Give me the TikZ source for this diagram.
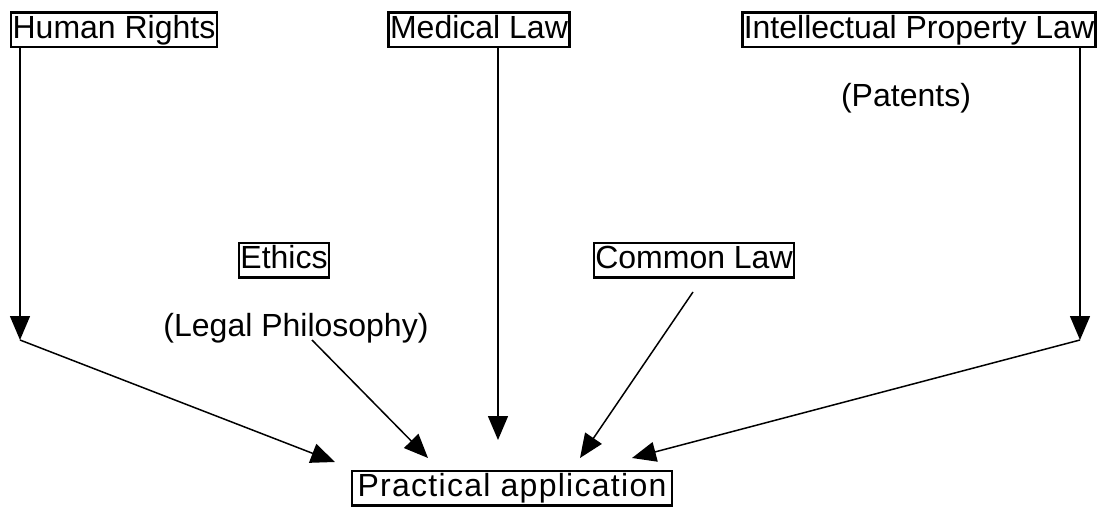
\documentclass[tikz,border=0pt]{standalone}
\usepackage{fontspec}
\setmainfont{Liberation Sans}
\usepackage{tikz}
\usetikzlibrary{arrows.meta}
\tikzset{
  lawnode/.style = {align=center, font=\fontsize{32}{37}\selectfont,
    text height=23.5pt, text depth=7pt},
  law_b/.style = {lawnode, rectangle, draw=black, line width=2.5pt,
    inner xsep=1.5pt, inner ysep=2pt},% boxed field of law
  law_n/.style = {lawnode, inner sep=0pt},% plain note under a box
  flow/.style = {line width=1.5pt, -{Triangle[length=24pt,width=20pt]}}
}
\begin{document}
\begin{tikzpicture}[x=1pt,y=-1pt]
\useasboundingbox (0,0) rectangle (1104,508);
\node [law_b] (hr) at (114,30) {Human Rights};
\node [law_b] (med) at (479,30) {Medical Law};
\node [law_b] (ip) at (919,30) {Intellectual Property Law};
\node [law_n] (pat) at (906,98) {(Patents)};
\node [law_b] (eth) at (284,260) {Ethics};
\node [law_n] (phil) at (296,328) {(Legal Philosophy)};
\node [law_b] (com) at (694,260) {Common Law};
\node [law_b, minimum width=320pt,
  font=\fontsize{32}{37}\selectfont\addfontfeature{LetterSpace=4}]
  (prac) at (512,488) {Practical application};
% bends of the two side paths
\coordinate (hrbend) at (20,340);
\coordinate (ipbend) at (1080,340);
\coordinate (pracl) at (335,462);
\coordinate (pracr) at (632,458);
\coordinate (pracm) at (498,440);
\coordinate (pracphil) at (428,458);
\coordinate (praccom) at (580,458);
\coordinate (philst) at (312,340);
\coordinate (comst) at (693,292);
\draw [flow] (hr.south -| hrbend) -- (hrbend);
\draw [flow] (hrbend) -- (pracl);
\draw [flow] (med.south -| pracm) -- (pracm);
\draw [flow] (ip.south -| ipbend) -- (ipbend);
\draw [flow] (ipbend) -- (pracr);
\draw [flow] (philst) -- (pracphil);
\draw [flow] (comst) -- (praccom);
\end{tikzpicture}
\end{document}
